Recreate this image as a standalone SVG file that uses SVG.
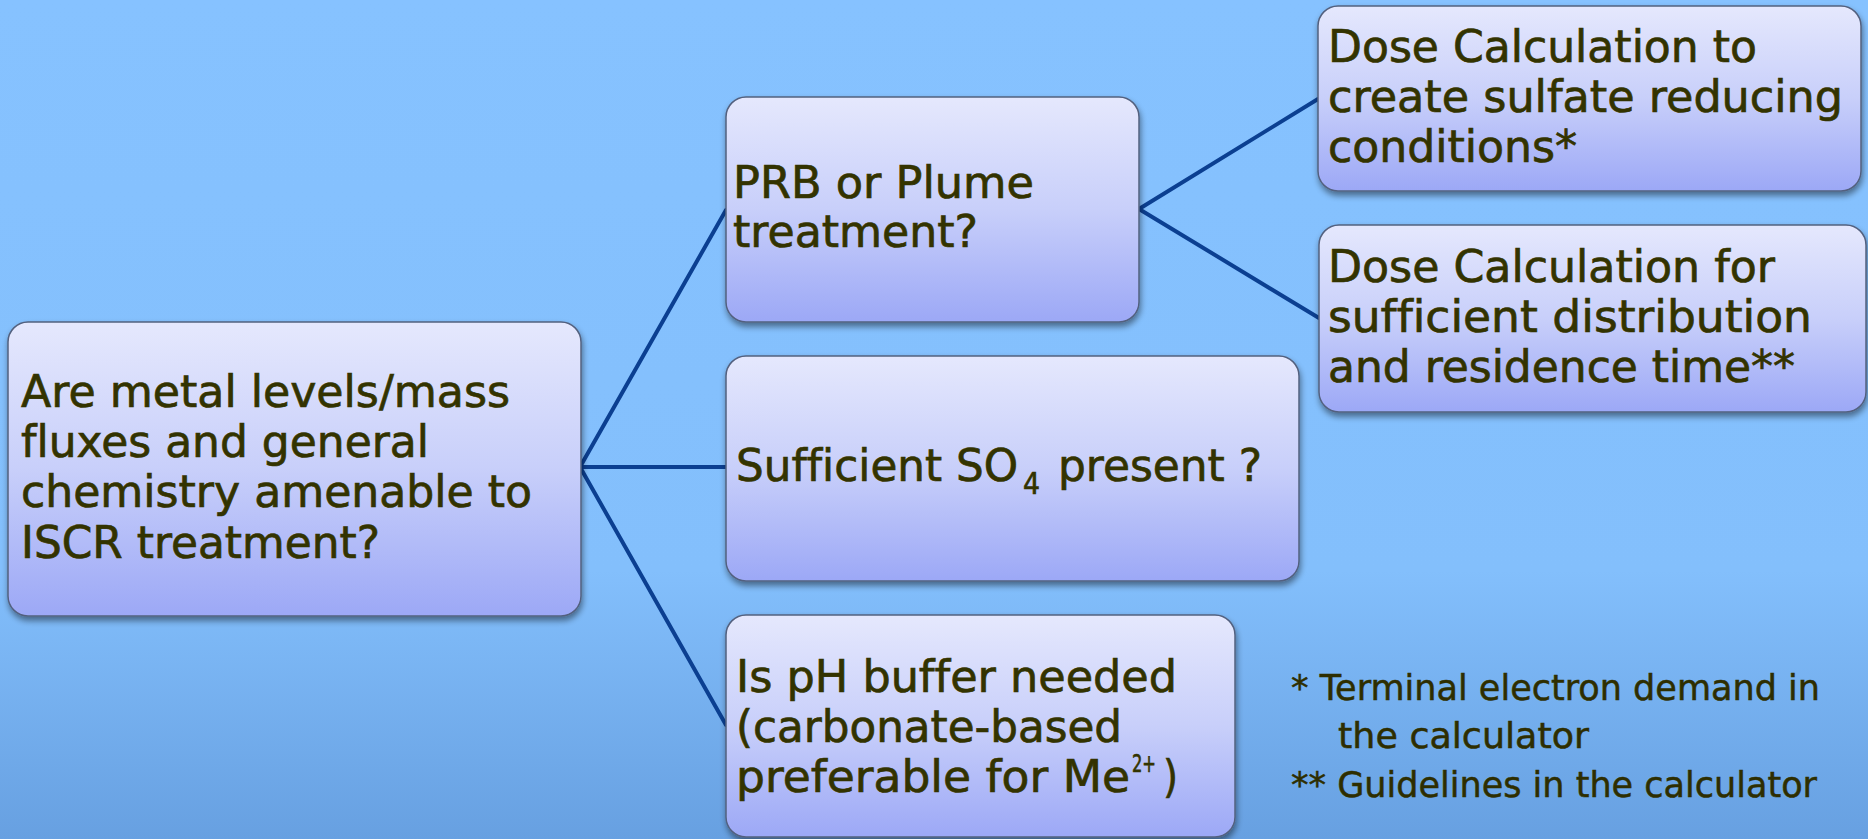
<svg xmlns="http://www.w3.org/2000/svg" width="1868" height="839" viewBox="0 0 1868 839">
  <defs>
    <linearGradient id="bg" x1="0" y1="0" x2="0" y2="1">
      <stop offset="0" stop-color="#86C2FF"/>
      <stop offset="0.68" stop-color="#83BFFC"/>
      <stop offset="1" stop-color="#67A0E1"/>
    </linearGradient>
    <linearGradient id="boxfill" x1="0" y1="0" x2="0" y2="1">
      <stop offset="0" stop-color="#E5E8FD"/>
      <stop offset="0.5" stop-color="#C8CFFA"/>
      <stop offset="1" stop-color="#9CA8F6"/>
    </linearGradient>
    <filter id="shadow" x="-5%" y="-5%" width="112%" height="115%">
      <feGaussianBlur in="SourceAlpha" stdDeviation="3"/>
      <feOffset dx="1" dy="4" result="b"/>
      <feComponentTransfer><feFuncA type="linear" slope="0.45"/></feComponentTransfer>
      <feMerge><feMergeNode/><feMergeNode in="SourceGraphic"/></feMerge>
    </filter>
  </defs>
  <style>
    .box { fill: url(#boxfill); stroke: #52617F; stroke-width: 1.5; filter: url(#shadow); }
    .t { font-family: "DejaVu Sans", Verdana, sans-serif; font-size: 44px; fill: #333300; stroke: #333300; stroke-width: 0.7; font-variant-ligatures: none; }
    .fn { font-family: "DejaVu Sans", Verdana, sans-serif; font-size: 35px; fill: #2E2E00; stroke: #2E2E00; stroke-width: 0.5; font-variant-ligatures: none; }
    .sub { font-size: 30px; }
    .sup { font-size: 24px; }
    .con { stroke: #0B3F91; stroke-width: 4; fill: none; stroke-linecap: round; }
  </style>
  <rect x="0" y="0" width="1868" height="839" fill="url(#bg)"/>

  <g id="connectors">
    <path class="con" d="M580,467 L726,210"/>
    <path class="con" d="M580,467 L726,467"/>
    <path class="con" d="M580,467 L726,725"/>
    <path class="con" d="M1139,209 L1318,99"/>
    <path class="con" d="M1139,209 L1319,318"/>
  </g>

  <g id="node-root">
    <rect class="box" x="8" y="322" width="573" height="294" rx="20"/>
    <text class="t" lengthAdjust="spacingAndGlyphs" x="21" y="407" textLength="489">Are metal levels/mass</text>
    <text class="t" lengthAdjust="spacingAndGlyphs" x="21" y="457" textLength="408">fluxes and general</text>
    <text class="t" lengthAdjust="spacingAndGlyphs" x="21" y="507" textLength="511">chemistry amenable to</text>
    <text class="t" lengthAdjust="spacingAndGlyphs" x="21" y="558" textLength="359">ISCR treatment?</text>
  </g>

  <g id="node-prb">
    <rect class="box" x="726" y="97" width="413" height="225" rx="20"/>
    <text class="t" lengthAdjust="spacingAndGlyphs" x="733" y="198" textLength="301">PRB or Plume</text>
    <text class="t" lengthAdjust="spacingAndGlyphs" x="733" y="247" textLength="245">treatment?</text>
  </g>

  <g id="node-so4">
    <rect class="box" x="726" y="356" width="573" height="225" rx="20"/>
    <text class="t"><tspan x="736" y="481" lengthAdjust="spacingAndGlyphs" textLength="282">Sufficient SO</tspan><tspan class="sub" x="1023" y="494" lengthAdjust="spacingAndGlyphs" textLength="17">4</tspan><tspan x="1058" y="481" lengthAdjust="spacingAndGlyphs" textLength="204">present ?</tspan></text>
  </g>

  <g id="node-ph">
    <rect class="box" x="726" y="615" width="509" height="222" rx="20"/>
    <text class="t" lengthAdjust="spacingAndGlyphs" x="736" y="692" textLength="441">Is pH buffer needed</text>
    <text class="t" lengthAdjust="spacingAndGlyphs" x="736" y="742" textLength="386">(carbonate-based</text>
    <text class="t"><tspan x="736" y="792" lengthAdjust="spacingAndGlyphs" textLength="394">preferable for Me</tspan><tspan class="sup" x="1132" y="772" lengthAdjust="spacingAndGlyphs" textLength="24">2+</tspan><tspan x="1163" y="792" lengthAdjust="spacingAndGlyphs" textLength="15">)</tspan></text>
  </g>

  <g id="node-dose1">
    <rect class="box" x="1318" y="6" width="543" height="185" rx="20"/>
    <text class="t" lengthAdjust="spacingAndGlyphs" x="1328" y="62" textLength="429">Dose Calculation to</text>
    <text class="t" lengthAdjust="spacingAndGlyphs" x="1328" y="112" textLength="515">create sulfate reducing</text>
    <text class="t" lengthAdjust="spacingAndGlyphs" x="1328" y="162" textLength="249">conditions*</text>
  </g>

  <g id="node-dose2">
    <rect class="box" x="1319" y="225" width="547" height="187" rx="20"/>
    <text class="t" lengthAdjust="spacingAndGlyphs" x="1328" y="282" textLength="447">Dose Calculation for</text>
    <text class="t" lengthAdjust="spacingAndGlyphs" x="1328" y="332" textLength="484">sufficient distribution</text>
    <text class="t" lengthAdjust="spacingAndGlyphs" x="1328" y="382" textLength="467">and residence time**</text>
  </g>

  <g id="footnotes">
    <text class="fn" lengthAdjust="spacingAndGlyphs" x="1291" y="700" textLength="529">* Terminal electron demand in</text>
    <text class="fn" lengthAdjust="spacingAndGlyphs" x="1338" y="748" textLength="251">the calculator</text>
    <text class="fn" lengthAdjust="spacingAndGlyphs" x="1291" y="797" textLength="526">** Guidelines in the calculator</text>
  </g>
</svg>
